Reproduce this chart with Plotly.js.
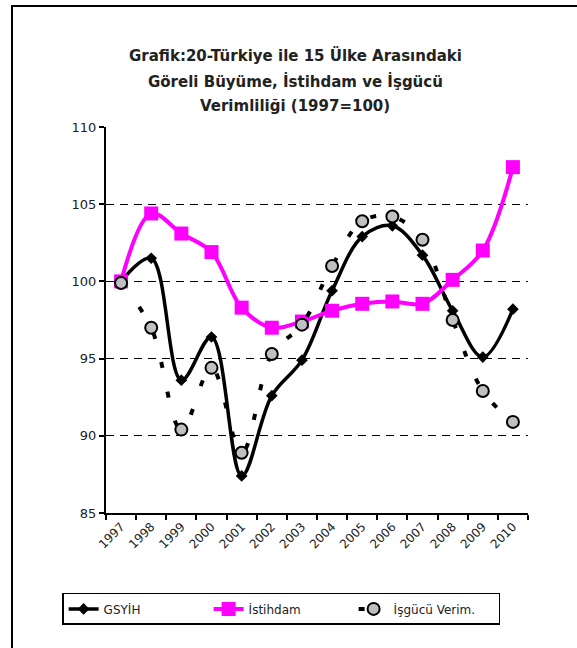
<!DOCTYPE html>
<html>
<head>
<meta charset="utf-8">
<script src="https://cdn.plot.ly/plotly-3.0.1.min.js"></script>
<style>
  html, body { margin: 0; padding: 0; background: #fff; }
  #frame { position: absolute; left: 11px; top: 5px; width: 600px; height: 700px;
           border-left: 2px solid #000; border-top: 2px solid #000; }
  #plot { position: absolute; left: 0; top: 0; width: 577px; height: 648px; }
</style>
</head>
<body>
<div id="frame"></div>
<div id="plot"></div>
<script>
const years = ['1997', '1998', '1999', '2000', '2001', '2002', '2003',
               '2004', '2005', '2006', '2007', '2008', '2009', '2010'];
const gsyih = [100, 101.5, 93.6, 96.4, 87.4, 92.6, 94.9, 99.4, 102.9, 103.6, 101.7, 98.1, 95.1, 98.2];
const istihdam = [100, 104.4, 103.1, 101.9, 98.3, 97.0, 97.4, 98.1, 98.55, 98.7, 98.55, 100.1, 102.0, 107.4];
const verim = [99.9, 97.0, 90.4, 94.4, 88.9, 95.3, 97.2, 101.0, 103.9, 104.2, 102.7, 97.5, 92.9, 90.9];
const titleLines = ['Grafik:20-Türkiye ile 15 Ülke Arasındaki',
                    'Göreli Büyüme, İstihdam ve İşgücü',
                    'Verimliliği (1997=100)'];

const font = '"DejaVu Sans", Lato, sans-serif';

const traces = [
  {
    x: years, y: gsyih, name: 'GSYİH', type: 'scatter', mode: 'lines+markers',
    line: { color: '#000', width: 3.5, shape: 'spline' },
    marker: { symbol: 'diamond', size: 9, color: '#000' }
  },
  {
    x: years, y: istihdam, name: 'İstihdam', type: 'scatter', mode: 'lines+markers',
    line: { color: '#ff00ff', width: 4, shape: 'spline' },
    marker: { symbol: 'square', size: 14, color: '#ff00ff' }
  },
  {
    x: years, y: verim, name: 'İşgücü Verim.', type: 'scatter', mode: 'lines+markers',
    line: { color: '#000', width: 4, shape: 'spline', dash: '6px,24px' },
    marker: { symbol: 'circle', size: 12, color: '#c0c0c0', line: { color: '#000', width: 2 } }
  }
];

// title drawn as three lines to get the wide line spacing of the original
const titleY = [1.184, 1.119, 1.054];
const annotations = titleLines.map((t, i) => ({
  text: '<b>' + t + '</b>', xref: 'paper', yref: 'paper',
  x: 0.448, y: titleY[i], xanchor: 'center', yanchor: 'middle',
  showarrow: false, font: { family: font, size: 15, color: '#222' }
}));

const layout = {
  width: 577, height: 648,
  margin: { l: 106, r: 49, t: 127, b: 135, autoexpand: false },
  paper_bgcolor: 'rgba(0,0,0,0)',
  plot_bgcolor: '#fff',
  font: { family: font, size: 12, color: '#222' },
  annotations: annotations,
  xaxis: {
    type: 'category', range: [-0.5, 13.5],
    tickson: 'boundaries',
    ticks: 'outside', ticklen: 5, tickwidth: 2, tickcolor: '#000',
    showline: true, linecolor: '#000', linewidth: 2,
    showgrid: false, tickangle: -45,
    tickfont: { size: 12, color: '#222' }
  },
  yaxis: {
    range: [85, 110], dtick: 5,
    ticks: 'outside', ticklen: 5, tickwidth: 2, tickcolor: '#000',
    showline: true, linecolor: '#000', linewidth: 2,
    showgrid: false, zeroline: false,
    tickfont: { size: 13, color: '#222' },
    minor: { tickvals: [90, 95, 100, 105], showgrid: true, gridcolor: '#000',
             gridwidth: 1, griddash: '8px,6px', ticklen: 0 }
  },
  showlegend: true,
  legend: {
    orientation: 'h', x: -0.104, xanchor: 'left', y: -0.207, yanchor: 'top',
    bordercolor: '#000', borderwidth: 1.5, bgcolor: '#fff',
    entrywidth: 100, itemwidth: 30,
    font: { size: 12, color: '#222' }
  }
};

Plotly.newPlot('plot', traces, layout, { displayModeBar: false });
</script>
</body>
</html>
